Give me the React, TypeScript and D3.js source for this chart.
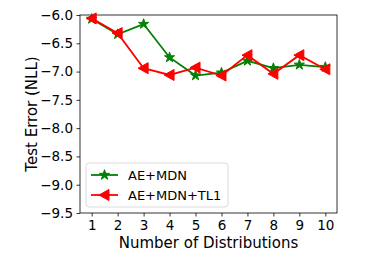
import React, { useEffect, useRef } from "react";
import * as d3 from "d3";

const distributions = [1, 2, 3, 4, 5, 6, 7, 8, 9, 10];
const aeMdn = [-6.07, -6.34, -6.16, -6.75, -7.07, -7.02, -6.81, -6.94, -6.88, -6.92];
const aeMdnTl1 = [-6.06, -6.32, -6.94, -7.06, -6.93, -7.07, -6.71, -7.04, -6.71, -6.96];
const yTicks = [-6.0, -6.5, -7.0, -7.5, -8.0, -8.5, -9.0, -9.5];

const seriesList = [
  { name: "AE+MDN", values: aeMdn, color: "green", marker: "star" },
  { name: "AE+MDN+TL1", values: aeMdnTl1, color: "red", marker: "tri" },
];

const App = () => {
  const ref = useRef<SVGSVGElement>(null);

  useEffect(() => {
    const width = 365;
    const height = 259;
    const margin = { top: 15, right: 28, bottom: 46, left: 80 };
    const w = width - margin.left - margin.right;
    const h = height - margin.top - margin.bottom;
    const font = "DejaVu Sans, sans-serif";

    const svg = d3.select(ref.current);
    svg.selectAll("*").remove();
    svg.attr("width", width).attr("height", height);

    const x = d3.scaleLinear().domain([0.55, 10.45]).range([0, w]);
    const y = d3.scaleLinear().domain([-9.5, -6.0]).range([h, 0]);

    const g = svg.append("g").attr("transform", `translate(${margin.left},${margin.top})`);

    // axes
    const xAxis = g
      .append("g")
      .attr("transform", `translate(0,${h})`)
      .call(d3.axisBottom(x).tickValues(distributions).tickSize(3.5).tickPadding(3.5).tickFormat(d3.format("d")));
    const yAxis = g
      .append("g")
      .call(d3.axisLeft(y).tickValues(yTicks).tickSize(3.5).tickPadding(3.5).tickFormat(d3.format(".1f")));
    [xAxis, yAxis].forEach((a) => {
      a.select(".domain").remove();
      a.selectAll("line").attr("stroke", "black").attr("stroke-width", 0.8);
      a.selectAll("text").attr("font-family", font).attr("font-size", 13.5).attr("fill", "black");
    });

    // frame
    g.append("rect")
      .attr("width", w)
      .attr("height", h)
      .attr("fill", "none")
      .attr("stroke", "black")
      .attr("stroke-width", 0.8);

    const line = d3
      .line<number>()
      .x((d, i) => x(distributions[i]))
      .y((d) => y(d));

    const starPath = d3.symbol().type(d3.symbolStar).size(32)();
    const triPath = "M-5.5,0L4.5,-5.5L4.5,5.5Z";

    const drawMarker = (sel: any, s: any, cx: number, cy: number) => {
      sel
        .append("path")
        .attr("d", s.marker === "star" ? starPath : triPath)
        .attr("transform", `translate(${cx},${cy})`)
        .attr("fill", s.color)
        .attr("stroke", s.color)
        .attr("stroke-width", 1);
    };

    seriesList.forEach((s) => {
      g.append("path")
        .datum(s.values)
        .attr("d", line)
        .attr("fill", "none")
        .attr("stroke", s.color)
        .attr("stroke-width", 1.8);
      s.values.forEach((v, i) => drawMarker(g, s, x(distributions[i]), y(v)));
    });

    // legend
    const lg = g.append("g").attr("transform", "translate(6,148)");
    lg.append("rect")
      .attr("width", 142)
      .attr("height", 44)
      .attr("rx", 3)
      .attr("fill", "white")
      .attr("stroke", "#d0d0d0")
      .attr("stroke-width", 0.8);
    seriesList.forEach((s, i) => {
      const ly = 12 + i * 20;
      lg.append("line")
        .attr("x1", 5)
        .attr("x2", 32)
        .attr("y1", ly)
        .attr("y2", ly)
        .attr("stroke", s.color)
        .attr("stroke-width", 1.8);
      drawMarker(lg, s, 18.5, ly);
      lg.append("text")
        .attr("x", 42)
        .attr("y", ly)
        .attr("dy", "0.35em")
        .attr("font-family", font)
        .attr("font-size", 13)
        .text(s.name);
    });

    // labels
    svg
      .append("text")
      .attr("x", margin.left + w / 2)
      .attr("y", 248)
      .attr("text-anchor", "middle")
      .attr("font-family", font)
      .attr("font-size", 15)
      .text("Number of Distributions");
    svg
      .append("text")
      .attr("transform", `translate(37,${margin.top + h / 2}) rotate(-90)`)
      .attr("text-anchor", "middle")
      .attr("font-family", font)
      .attr("font-size", 15)
      .text("Test Error (NLL)");
  }, []);

  return (
    <div style={{ position: "absolute", left: 0, top: 0 }}>
      <svg ref={ref}></svg>
    </div>
  );
};

export default App;
